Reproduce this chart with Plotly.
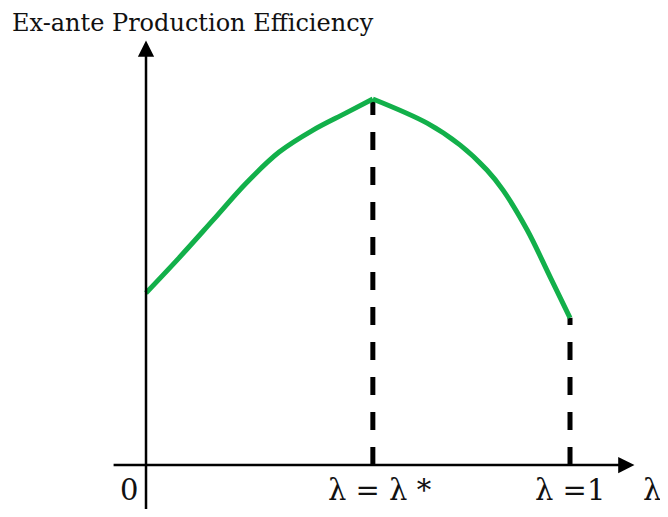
import plotly.graph_objects as go

# Data (λ in [0,1], efficiency normalised so peak = 1)
lam_star = 0.535
left_x = [0.0, 0.078, 0.158, 0.236, 0.314, 0.394, 0.472, 0.535]
left_y = [0.470, 0.566, 0.669, 0.770, 0.855, 0.915, 0.962, 1.0]
right_x = [0.535, 0.663, 0.741, 0.804, 0.842, 0.899, 0.953, 1.0]
right_y = [1.0, 0.934, 0.874, 0.806, 0.751, 0.642, 0.514, 0.402]

title_text = "Ex-ante Production Efficiency"
tick_labels = ["0", "λ = λ *", "λ =1", "λ"]

green = "#12b04a"
font_family = "DejaVu Serif, Liberation Serif, serif"

fig = go.Figure()

# dashed verticals
fig.add_trace(go.Scatter(x=[lam_star, lam_star], y=[0, left_y[-1]], mode="lines",
                         line=dict(color="black", width=5, dash="18px,17px"),
                         hoverinfo="skip", showlegend=False))
fig.add_trace(go.Scatter(x=[1.0, 1.0], y=[0, right_y[-1]], mode="lines",
                         line=dict(color="black", width=5, dash="18px,17px"),
                         hoverinfo="skip", showlegend=False))

# curve
fig.add_trace(go.Scatter(x=left_x, y=left_y, mode="lines",
                         line=dict(color=green, width=5, shape="spline", smoothing=1.0),
                         showlegend=False))
fig.add_trace(go.Scatter(x=right_x, y=right_y, mode="lines",
                         line=dict(color=green, width=5, shape="spline", smoothing=1.0),
                         showlegend=False))

# axes with arrows
fig.add_annotation(x=0, y=1.16, ax=0, ay=-0.125, xref="x", yref="y", axref="x", ayref="y",
                   showarrow=True, arrowhead=2, arrowsize=1.3, arrowwidth=2.5, arrowcolor="black", text="")
fig.add_annotation(x=1.152, y=0, ax=-0.08, ay=0, xref="x", yref="y", axref="x", ayref="y",
                   showarrow=True, arrowhead=2, arrowsize=1.3, arrowwidth=2.5, arrowcolor="black", text="")

# labels
fig.add_annotation(x=0.0, y=1.207, xref="x", yref="y", text=title_text, showarrow=False,
                   xanchor="left", yanchor="middle", xshift=-136,
                   font=dict(family=font_family, size=24, color="#111"))
label_x = [-0.040, 0.552, 1.0, 1.194]
for lx, lt in zip(label_x, tick_labels):
    fig.add_annotation(x=lx, y=-0.069, xref="x", yref="y", text=lt, showarrow=False,
                       xanchor="center", yanchor="middle",
                       font=dict(family=font_family, size=29, color="#111"))

# the page body has an 8px margin, so the figure sits at (8, 8) in the window;
# it is sized so that the page does not overflow, and the ranges account for it
fig.update_layout(
    width=660, height=501, margin=dict(l=0, r=0, t=0, b=0),
    paper_bgcolor="white", plot_bgcolor="white",
    xaxis=dict(range=[-0.3255, 1.2311], visible=False, fixedrange=True),
    yaxis=dict(range=[-0.1202, 1.2486], visible=False, fixedrange=True),
    showlegend=False,
)

fig.write_html("out.html")
